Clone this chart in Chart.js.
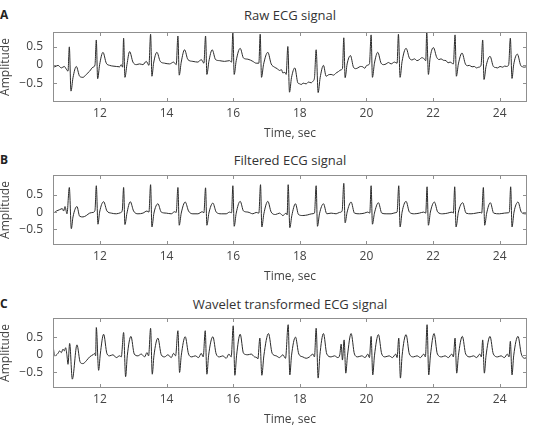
<!doctype html>
<html>
<head>
<meta charset="utf-8">
<title>ECG signals</title>
<script src="https://cdn.jsdelivr.net/npm/chart.js@4.4.1/dist/chart.umd.min.js"></script>
<style>
  body { margin: 0; width: 534px; height: 425px; overflow: hidden; background: #fff; position: relative; font-family: "Open Sans", sans-serif; }
  .panel { position: absolute; left: 0; width: 534px; height: 142px; }
  .panel canvas { position: absolute; left: 0; top: 0; }
  .letter { position: absolute; left: 0; font-weight: bold; font-size: 12px; color: #222; }
  .title { position: absolute; left: 53px; width: 474px; text-align: center; font-size: 13px; color: #333; }
</style>
</head>
<body>
<div class="panel" style="top:0px">
  <div class="letter" style="top:6px">A</div>
  <div class="title" style="top:6px">Raw ECG signal</div>
  <canvas id="rawChart" width="534" height="142"></canvas>
</div>
<div class="panel" style="top:143px">
  <div class="letter" style="top:8px">B</div>
  <div class="title" style="top:8px">Filtered ECG signal</div>
  <canvas id="filteredChart" width="534" height="142"></canvas>
</div>
<div class="panel" style="top:286px">
  <div class="letter" style="top:9px">C</div>
  <div class="title" style="top:9px">Wavelet transformed ECG signal</div>
  <canvas id="waveletChart" width="534" height="142"></canvas>
</div>
<script>
// tick labels
const xTicks = [12, 14, 16, 18, 20, 22, 24];
const yTicks = [-0.5, 0, 0.5];

// A: raw signal (time in sec, amplitude)
const tA = [10.50,10.64,10.74,10.84,10.93,11.00,11.04,11.08,11.13,11.19,11.29,11.39,11.49,11.59,11.69,11.79,11.85,
  11.89,11.93,11.99,12.09,12.19,12.29,12.39,12.49,12.59,12.64,12.68,
  12.71,12.75,12.81,12.89,12.99,13.09,13.19,13.29,13.39,13.47,
  13.52,13.56,13.61,13.71,13.81,13.94,14.09,14.21,14.29,
  14.34,14.38,14.44,14.54,14.64,14.79,14.94,15.04,15.12,
  15.17,15.21,15.27,15.37,15.47,15.59,15.74,15.89,15.95,
  15.99,16.03,16.09,16.21,16.31,16.44,16.59,16.69,16.77,
  16.81,16.85,16.91,17.04,17.14,17.24,17.32,17.39,17.45,17.49,17.55,17.59,
  17.64,17.69,17.75,17.85,17.94,18.00,18.04,18.10,18.19,18.26,18.34,18.40,18.44,
  18.49,18.55,18.61,18.71,18.79,18.86,18.94,19.01,19.09,19.16,19.24,19.28,
  19.32,19.36,19.42,19.52,19.61,19.68,19.74,19.82,19.89,19.95,20.01,20.09,
  20.14,20.18,20.24,20.34,20.44,20.52,20.59,20.66,20.74,20.84,20.92,
  20.96,21.01,21.07,21.19,21.29,21.37,21.44,21.52,21.59,21.66,21.71,21.78,
  21.81,21.86,21.91,22.01,22.11,22.18,22.24,22.31,22.39,22.45,22.51,22.61,
  22.66,22.70,22.76,22.87,22.97,23.03,23.09,23.17,23.24,23.30,23.37,23.44,
  23.49,23.53,23.59,23.71,23.81,23.88,23.94,24.01,24.09,24.15,24.21,24.27,
  24.32,24.37,24.42,24.53,24.63,24.69,24.74,24.82];
const vA = [-0.01,-0.05,-0.01,-0.08,-0.04,-0.13,-0.17,0.50,-0.72,-0.35,-0.04,-0.31,-0.34,-0.26,-0.17,-0.06,0.00,
  0.69,-0.38,0.01,0.35,0.05,-0.01,-0.03,-0.04,-0.05,0.01,-0.06,
  0.74,-0.34,0.01,0.37,0.08,0.01,0.03,0.01,0.10,-0.01,
  0.85,-0.31,0.05,0.35,0.10,0.05,0.03,0.08,0.01,
  0.80,-0.28,0.08,0.42,0.15,0.10,0.08,0.15,0.05,
  0.80,-0.26,0.10,0.42,0.15,0.12,0.10,0.12,0.08,
  0.90,-0.26,0.12,0.46,0.19,0.16,0.10,0.05,0.05,
  0.85,-0.34,0.01,0.35,0.03,-0.06,-0.10,-0.15,-0.13,-0.22,-0.20,-0.26,
  0.51,-0.75,-0.35,-0.08,-0.49,-0.52,-0.54,-0.50,-0.52,-0.47,-0.49,-0.44,-0.35,
  0.42,-0.76,-0.35,-0.01,-0.31,-0.27,-0.26,-0.28,-0.22,-0.18,-0.13,-0.10,
  0.75,-0.35,0.03,0.26,-0.06,-0.10,-0.08,-0.04,-0.05,-0.09,-0.01,0.03,
  0.83,-0.34,0.05,0.35,0.05,0.01,0.03,0.07,0.03,0.08,0.05,
  0.85,-0.34,0.10,0.46,0.19,0.14,0.17,0.12,0.15,0.20,0.19,0.12,
  0.92,-0.26,0.19,0.48,0.21,0.15,0.17,0.13,0.12,0.06,0.08,0.03,
  0.83,-0.31,0.03,0.33,0.03,-0.02,-0.01,-0.05,-0.04,-0.08,-0.06,-0.01,
  0.69,-0.40,-0.04,0.24,-0.04,-0.07,-0.08,-0.04,-0.06,-0.03,-0.04,0.01,
  0.74,-0.37,0.01,0.30,-0.01,-0.05,-0.06,-0.04];

// B: filtered signal
const tB = [10.50,10.59,10.69,10.79,10.87,10.91,10.95,11.01,
  11.08,11.14,11.19,11.31,11.39,11.49,11.59,11.69,11.79,11.85,
  11.89,11.94,11.99,12.11,12.21,12.34,12.49,12.61,12.67,
  12.71,12.75,12.81,12.91,13.01,13.14,13.29,13.41,13.47,
  13.52,13.56,13.62,13.74,13.84,13.99,14.14,14.24,14.29,
  14.34,14.38,14.44,14.56,14.66,14.79,14.94,15.07,15.12,
  15.17,15.21,15.27,15.39,15.49,15.64,15.79,15.89,15.95,
  15.99,16.03,16.09,16.21,16.31,16.44,16.59,16.69,16.77,
  16.82,16.86,16.92,17.04,17.14,17.27,17.39,17.49,17.59,17.62,
  17.65,17.70,17.76,17.87,17.96,18.09,18.24,18.36,18.44,
  18.49,18.53,18.59,18.71,18.81,18.94,19.09,19.19,19.27,
  19.32,19.36,19.42,19.54,19.64,19.79,19.94,20.04,20.10,
  20.14,20.18,20.24,20.36,20.46,20.59,20.74,20.86,20.92,
  20.97,21.01,21.07,21.19,21.29,21.44,21.59,21.72,21.78,
  21.82,21.86,21.92,22.04,22.14,22.29,22.44,22.57,22.61,
  22.65,22.69,22.76,22.89,22.99,23.14,23.29,23.42,23.46,
  23.51,23.55,23.61,23.72,23.82,23.99,24.14,24.26,24.29,
  24.33,24.37,24.43,24.55,24.65,24.78,24.82];
const vB = [0.00,-0.03,0.03,0.07,0.10,0.03,0.16,-0.05,
  0.71,-0.48,-0.14,0.16,-0.12,-0.14,-0.10,-0.03,-0.01,0.05,
  0.76,-0.35,0.00,0.30,0.03,-0.03,-0.05,-0.02,0.05,
  0.71,-0.36,-0.03,0.30,0.03,-0.05,-0.03,0.03,0.00,
  0.79,-0.43,-0.03,0.24,0.00,-0.03,-0.05,0.01,-0.01,
  0.71,-0.38,-0.03,0.29,0.03,-0.05,-0.05,0.01,-0.02,
  0.70,-0.38,-0.03,0.26,0.00,-0.05,-0.05,0.00,-0.02,
  0.76,-0.41,-0.03,0.31,0.03,0.00,-0.05,-0.01,-0.03,
  0.79,-0.43,-0.05,0.31,0.00,-0.07,-0.03,-0.10,-0.03,-0.08,
  0.79,-0.45,-0.10,0.24,-0.07,-0.10,-0.08,-0.05,-0.03,
  0.76,-0.41,-0.05,0.24,-0.05,-0.03,-0.05,-0.01,0.03,
  0.83,-0.31,0.00,0.29,-0.03,-0.05,-0.03,0.00,-0.03,
  0.76,-0.35,-0.03,0.27,-0.03,-0.05,-0.05,-0.02,0.00,
  0.76,-0.43,0.00,0.31,0.00,-0.05,-0.03,0.00,-0.03,
  0.73,-0.38,0.00,0.29,0.00,-0.05,-0.03,0.00,-0.03,
  0.73,-0.43,0.00,0.27,-0.03,-0.05,-0.03,-0.01,-0.03,
  0.71,-0.38,-0.03,0.27,-0.03,-0.05,-0.03,-0.02,0.00,
  0.73,-0.43,0.00,0.29,0.00,-0.05,-0.03];

// C: wavelet transformed signal
const tC = [10.59,10.64,10.74,10.79,10.84,10.89,10.93,10.97,11.01,11.04,11.09,11.17,11.31,11.41,11.49,11.59,11.69,11.79,11.84,11.87,
  11.89,11.96,12.01,12.11,12.21,12.29,12.39,12.49,12.59,12.64,
  12.71,12.77,12.82,12.93,13.03,13.14,13.24,13.34,13.41,13.46,
  13.52,13.57,13.62,13.74,13.84,13.94,14.04,14.14,14.21,14.27,
  14.34,14.39,14.44,14.56,14.66,14.76,14.86,14.96,15.04,15.10,
  15.16,15.21,15.26,15.39,15.49,15.59,15.69,15.79,15.87,15.94,
  16.00,16.05,16.10,16.21,16.31,16.44,16.54,16.64,16.71,16.74,
  16.80,16.86,16.92,17.06,17.17,17.29,17.39,17.49,17.57,
  17.65,17.70,17.75,17.87,17.97,18.09,18.19,18.29,18.39,18.44,
  18.49,18.55,18.60,18.71,18.81,18.94,19.04,19.14,19.20,19.24,19.28,
  19.33,19.38,19.43,19.54,19.64,19.74,19.86,19.96,20.04,20.09,
  20.14,20.19,20.24,20.36,20.46,20.56,20.68,20.78,20.88,20.92,
  20.97,21.02,21.07,21.19,21.29,21.41,21.52,21.62,21.72,21.77,
  21.82,21.87,21.92,22.03,22.13,22.26,22.36,22.46,22.56,22.61,
  22.66,22.71,22.76,22.88,22.98,23.11,23.21,23.31,23.40,23.45,
  23.49,23.54,23.59,23.71,23.81,23.94,24.04,24.14,24.23,24.28,
  24.32,24.37,24.42,24.55,24.65,24.76,24.82];
const vC = [0.28,-0.03,0.04,0.11,0.06,0.16,0.11,0.20,-0.03,-0.27,0.32,-0.69,0.28,-0.22,-0.25,-0.17,-0.06,0.00,0.04,-0.03,
  0.77,-0.44,0.02,0.58,0.03,-0.03,0.00,-0.08,-0.03,-0.06,
  0.63,-0.62,-0.03,0.52,0.02,-0.03,0.02,-0.06,0.06,-0.03,
  0.75,-0.55,-0.03,0.47,0.00,-0.06,0.00,-0.08,0.04,-0.03,
  0.68,-0.50,-0.03,0.51,0.02,-0.06,-0.03,-0.08,0.04,-0.06,
  0.68,-0.55,-0.03,0.51,0.02,-0.06,-0.03,-0.10,0.02,-0.06,
  0.82,-0.58,-0.03,0.58,0.04,0.00,0.02,-0.06,-0.08,-0.12,
  0.47,-0.58,-0.03,0.60,0.04,-0.03,-0.08,0.00,-0.10,
  0.85,-0.57,-0.03,0.50,0.02,-0.06,-0.10,-0.06,0.02,-0.06,
  0.75,-0.66,-0.03,0.60,0.02,-0.06,-0.03,-0.08,0.00,0.30,-0.15,
  0.42,-0.52,-0.03,0.60,0.02,-0.06,-0.03,-0.08,0.02,-0.08,
  0.52,-0.57,-0.03,0.57,0.02,-0.06,-0.03,-0.08,0.02,-0.08,
  0.47,-0.66,-0.03,0.57,0.02,-0.06,-0.03,-0.08,0.02,-0.06,
  0.85,-0.57,-0.03,0.60,0.02,-0.06,-0.03,-0.08,0.02,-0.06,
  0.47,-0.52,-0.03,0.52,0.02,-0.06,-0.03,-0.08,0.02,-0.06,
  0.42,-0.52,-0.03,0.52,0.02,-0.06,-0.03,-0.08,0.02,-0.06,
  0.38,-0.57,-0.03,0.52,0.02,-0.10,-0.05];

Chart.defaults.font.family = '"Open Sans", sans-serif';
Chart.defaults.font.size = 12;
Chart.defaults.color = '#444';

// box around the plot with ticks pointing inwards (matlab style)
const boxTicks = {
  id: 'boxTicks',
  afterDraw(chart) {
    const { ctx, chartArea: a, scales } = chart;
    ctx.save();
    ctx.strokeStyle = '#8f8f8f';
    ctx.lineWidth = 1;
    ctx.strokeRect(Math.round(a.left) + 0.5, Math.round(a.top) + 0.5,
      Math.round(a.right - a.left) - 1, Math.round(a.bottom - a.top) - 1);
    ctx.beginPath();
    xTicks.forEach((v) => {
      const px = Math.round(scales.x.getPixelForValue(v)) + 0.5;
      ctx.moveTo(px, a.bottom); ctx.lineTo(px, a.bottom - 4);
      ctx.moveTo(px, a.top); ctx.lineTo(px, a.top + 4);
    });
    yTicks.forEach((v) => {
      const py = Math.round(scales.y.getPixelForValue(v)) + 0.5;
      ctx.moveTo(a.left, py); ctx.lineTo(a.left + 4, py);
      ctx.moveTo(a.right, py); ctx.lineTo(a.right - 4, py);
    });
    ctx.stroke();
    ctx.restore();
  },
};

function make_chart(id, times, values, yMin, yMax) {
  const ctx = document.getElementById(id).getContext('2d');
  return new Chart(ctx, {
    type: 'line',
    data: {
      datasets: [{
        data: times.map((t, i) => ({ x: t, y: values[i] })),
        borderColor: '#2b2b2b',
        borderWidth: 1,
        pointRadius: 0,
        cubicInterpolationMode: 'monotone',
        fill: false,
      }],
    },
    options: {
      responsive: false,
      animation: false,
      devicePixelRatio: 1,
      layout: { padding: { top: 32, right: 7, left: 0, bottom: 0 } },
      plugins: { legend: { display: false }, tooltip: { enabled: false } },
      scales: {
        x: {
          type: 'linear',
          min: 10.59,
          max: 24.82,
          afterBuildTicks: (s) => { s.ticks = xTicks.map((v) => ({ value: v })); },
          afterFit: (s) => { s.height = 40; },
          grid: { display: false, drawTicks: false, tickLength: 0 },
          border: { display: false },
          ticks: { padding: 4, maxRotation: 0, color: '#444' },
          title: { display: true, text: 'Time, sec', color: '#444', padding: { top: 0, bottom: 1 } },
        },
        y: {
          min: yMin,
          max: yMax,
          afterBuildTicks: (s) => { s.ticks = yTicks.map((v) => ({ value: v })); },
          afterFit: (s) => { s.width = 53; },
          grid: { display: false, drawTicks: false, tickLength: 0 },
          border: { display: false },
          ticks: {
            padding: 10,
            color: '#444',
            callback: (v) => (v < 0 ? '\u2212' + Math.abs(v) : String(v)),
          },
          title: { display: true, text: 'Amplitude', color: '#444', font: { lineHeight: 1 }, padding: 0 },
        },
      },
    },
    plugins: [boxTicks],
  });
}

make_chart('rawChart', tA, vA, -1.02, 0.91);
make_chart('filteredChart', tB, vB, -0.95, 1.07);
make_chart('waveletChart', tC, vC, -0.94, 1.04);
</script>
</body>
</html>
